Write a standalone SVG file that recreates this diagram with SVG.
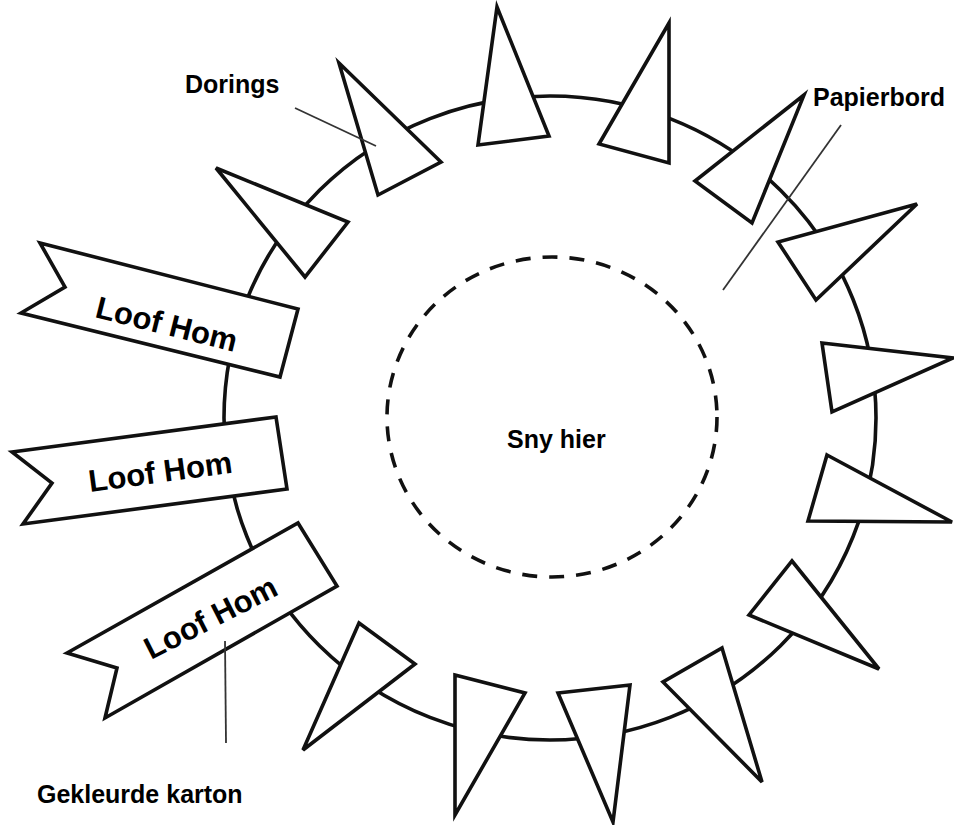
<svg xmlns="http://www.w3.org/2000/svg" width="954" height="825" viewBox="0 0 954 825">
  <style>
    .shape { fill: #ffffff; stroke: #111111; stroke-width: 3.6; stroke-linejoin: miter; }
    .ring { fill: #ffffff; stroke: #111111; stroke-width: 3.6; }
    .cut { fill: none; stroke: #111111; stroke-width: 3.6; stroke-dasharray: 15 12; }
    .label { font-family: "Liberation Sans", Arial, sans-serif; font-weight: bold; font-size: 25px; fill: #000000; }
    .banner-text { font-family: "Liberation Sans", Arial, sans-serif; font-weight: bold; font-size: 31px; fill: #000000; }
    .leader { stroke: #333333; stroke-width: 1.8; fill: none; }
  </style>
  <rect x="0" y="0" width="954" height="825" fill="#ffffff"/>

  <g id="papierbord-ring">
    <ellipse class="ring" cx="550" cy="418" rx="326" ry="322"/>
  </g>

  <g id="dorings">
    <polygon id="doring-1" class="shape" points="216,168 348,222 305,277"/>
    <polygon id="doring-2" class="shape" points="339,63 441,162 378,195"/>
    <polygon id="doring-3" class="shape" points="497,7 549,136 478,145"/>
    <polygon id="doring-4" class="shape" points="669,23 669,163 599,144"/>
    <polygon id="doring-5" class="shape" points="804,95 695,181 752,223"/>
    <polygon id="doring-6" class="shape" points="917,204 778,242 816,300"/>
    <polygon id="doring-7" class="shape" points="822,343 953,358 832,412"/>
    <polygon id="doring-8" class="shape" points="827,455 952,522 808,521"/>
    <polygon id="doring-9" class="shape" points="792,561 879,669 749,615"/>
    <polygon id="doring-10" class="shape" points="722,648 762,782 663,682"/>
    <polygon id="doring-11" class="shape" points="558,693 630,685 613,822"/>
    <polygon id="doring-12" class="shape" points="455,675 525,693 455,815"/>
    <polygon id="doring-13" class="shape" points="359,623 415,664 303,750"/>
  </g>

  <g id="banner-1">
    <polygon class="shape" points="40,243 298,309 280,377 21,313 65,287"/>
    <text class="banner-text" transform="translate(94,317) rotate(14)">Loof Hom</text>
  </g>
  <g id="banner-2">
    <polygon class="shape" points="12,452 276,417 287,489 23,524 52,483"/>
    <text class="banner-text" transform="translate(90,492) rotate(-7.7)">Loof Hom</text>
  </g>
  <g id="banner-3">
    <polygon class="shape" points="67,653 298,523 337,586 105,718 117,668"/>
    <text class="banner-text" transform="translate(151,660) rotate(-27)">Loof Hom</text>
  </g>

  <g id="sny-hier">
    <ellipse class="cut" cx="552" cy="417" rx="165" ry="160"/>
    <text class="label" x="507" y="448">Sny hier</text>
  </g>

  <g id="labels">
    <text id="label-dorings" class="label" x="185" y="93">Dorings</text>
    <text id="label-papierbord" class="label" x="813" y="106">Papierbord</text>
    <text id="label-karton" class="label" x="37" y="803">Gekleurde karton</text>
  </g>

  <g id="connectors">
    <line class="leader" x1="295" y1="108" x2="376" y2="146"/>
    <line class="leader" x1="841" y1="125" x2="723" y2="290"/>
    <line class="leader" x1="225" y1="641" x2="226" y2="743"/>
  </g>
</svg>
